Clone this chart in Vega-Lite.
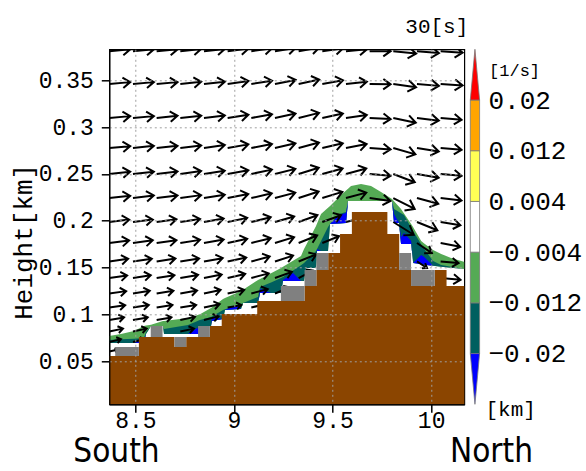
{
"$schema":"https://vega.github.io/schema/vega-lite/v6.json",
"autosize":{"type":"pad","resize":false},
"padding":{"left":9.3,"top":15.3,"right":0,"bottom":0},
"background":"white",
"bounds":"flush",
"spacing":6,
"datasets":{
"band":[
{"x":8.366,"b":0.0694,"t":0.0726,"g":0.0769,"u":0.0694},
{"x":8.4273,"b":0.0694,"t":0.0734,"g":0.0791,"u":0.0694},
{"x":8.4933,"b":0.0694,"t":0.0741,"g":0.0823,"u":0.0694},
{"x":8.544,"b":0.0694,"t":0.0748,"g":0.0876,"u":0.0737},
{"x":8.5541,"b":0.0791,"t":0.0812,"g":0.0881,"u":0.0791},
{"x":8.5795,"b":0.0876,"t":0.0876,"g":0.089,"u":0.0876},
{"x":8.6403,"b":0.0876,"t":0.0876,"g":0.0929,"u":0.0876},
{"x":8.6454,"b":0.0791,"t":0.0844,"g":0.093,"u":0.0791},
{"x":8.7062,"b":0.0791,"t":0.0865,"g":0.0946,"u":0.0791},
{"x":8.7671,"b":0.0791,"t":0.0887,"g":0.0961,"u":0.0791},
{"x":8.8127,"b":0.0791,"t":0.0927,"g":0.0991,"u":0.0855},
{"x":8.8229,"b":0.0791,"t":0.0936,"g":0.0998,"u":0.0844},
{"x":8.8279,"b":0.0876,"t":0.094,"g":0.1001,"u":0.0876},
{"x":8.8837,"b":0.0876,"t":0.0972,"g":0.1068,"u":0.0876},
{"x":8.8888,"b":0.0929,"t":0.0978,"g":0.1076,"u":0.0972},
{"x":8.9446,"b":0.0951,"t":0.1047,"g":0.1164,"u":0.0951},
{"x":8.9547,"b":0.1047,"t":0.1054,"g":0.1174,"u":0.1047},
{"x":9.0105,"b":0.1054,"t":0.1089,"g":0.1226,"u":0.11},
{"x":9.0358,"b":0.1057,"t":0.1111,"g":0.125,"u":0.1057},
{"x":9.046,"b":0.1121,"t":0.1121,"g":0.1263,"u":0.1121},
{"x":9.1221,"b":0.1121,"t":0.1186,"g":0.1367,"u":0.1121},
{"x":9.1322,"b":0.1228,"t":0.1292,"g":0.1378,"u":0.1271},
{"x":9.188,"b":0.1228,"t":0.134,"g":0.144,"u":0.1228},
{"x":9.2387,"b":0.1228,"t":0.1388,"g":0.1495,"u":0.1228},
{"x":9.2488,"b":0.1356,"t":0.1399,"g":0.1508,"u":0.1367},
{"x":9.2995,"b":0.1356,"t":0.1468,"g":0.1572,"u":0.1442},
{"x":9.3401,"b":0.1356,"t":0.1524,"g":0.1623,"u":0.1356},
{"x":9.3553,"b":0.1356,"t":0.1549,"g":0.1698,"u":0.1356},
{"x":9.3655,"b":0.1495,"t":0.157,"g":0.1739,"u":0.1495},
{"x":9.4162,"b":0.1495,"t":0.1677,"g":0.1944,"u":0.1495},
{"x":9.4213,"b":0.1677,"t":0.1698,"g":0.1969,"u":0.1698},
{"x":9.4415,"b":0.1677,"t":0.1783,"g":0.2072,"u":0.1677},
{"x":9.477,"b":0.1677,"t":0.1933,"g":0.2139,"u":0.1677},
{"x":9.4872,"b":0.1965,"t":0.1965,"g":0.2158,"u":0.1965},
{"x":9.5328,"b":0.1971,"t":0.2072,"g":0.2253,"u":0.2061},
{"x":9.5683,"b":0.1976,"t":0.2093,"g":0.2323,"u":0.2082},
{"x":9.5785,"b":0.221,"t":0.221,"g":0.2342,"u":0.221},
{"x":9.5937,"b":0.221,"t":0.221,"g":0.2371,"u":0.221},
{"x":9.6444,"b":0.221,"t":0.221,"g":0.2392,"u":0.221},
{"x":9.6951,"b":0.221,"t":0.221,"g":0.2371,"u":0.221},
{"x":9.7458,"b":0.221,"t":0.221,"g":0.2307,"u":0.221},
{"x":9.8016,"b":0.221,"t":0.221,"g":0.2231,"u":0.221},
{"x":9.8117,"b":0.1976,"t":0.2125,"g":0.2207,"u":0.2072},
{"x":9.8371,"b":0.1976,"t":0.2093,"g":0.2149,"u":0.1976},
{"x":9.8472,"b":0.1751,"t":0.208,"g":0.2125,"u":0.1826},
{"x":9.8624,"b":0.1751,"t":0.2061,"g":0.2077,"u":0.1869},
{"x":9.8987,"b":0.1751,"t":0.1926,"g":0.1965,"u":0.1783},
{"x":9.9089,"b":0.1549,"t":0.1888,"g":0.1929,"u":0.1549},
{"x":9.9494,"b":0.1537,"t":0.1749,"g":0.1783,"u":0.1634},
{"x":9.9646,"b":0.1531,"t":0.1698,"g":0.1758,"u":0.1613},
{"x":10.0096,"b":0.1518,"t":0.157,"g":0.1687,"u":0.1518},
{"x":10.0509,"b":0.1509,"t":0.1527,"g":0.1645,"u":0.1509},
{"x":10.1008,"b":0.1497,"t":0.1508,"g":0.1602,"u":0.1497},
{"x":10.17,"b":0.1484,"t":0.1484,"g":0.1559,"u":0.1484}
],
"terrain":[
{"x":8.338,"top":0.0556},{"x":8.398,"top":0.0556},{"x":8.458,"top":0.0556},{"x":8.518,"top":0.0758},{"x":8.578,"top":0.0758},{"x":8.638,"top":0.0758},{"x":8.698,"top":0.0652},{"x":8.758,"top":0.0758},{"x":8.818,"top":0.0758},{"x":8.878,"top":0.0876},{"x":8.938,"top":0.1004},{"x":8.998,"top":0.1004},{"x":9.058,"top":0.1004},{"x":9.118,"top":0.1143},{"x":9.178,"top":0.1143},{"x":9.238,"top":0.1143},{"x":9.298,"top":0.1143},{"x":9.358,"top":0.1303},{"x":9.418,"top":0.1474},{"x":9.478,"top":0.1655},{"x":9.538,"top":0.1858},{"x":9.598,"top":0.2093},{"x":9.658,"top":0.2093},{"x":9.718,"top":0.2093},{"x":9.778,"top":0.1858},{"x":9.838,"top":0.1474},{"x":9.898,"top":0.1303},{"x":9.958,"top":0.1303},{"x":10.018,"top":0.1474},{"x":10.078,"top":0.1303},{"x":10.138,"top":0.1303},{"x":10.198,"top":0.1303}
],
"gray":[
{"x":8.398,"x2":8.518,"lo":0.0556,"hi":0.0652},
{"x":8.578,"x2":8.638,"lo":0.0758,"hi":0.0876},
{"x":8.698,"x2":8.758,"lo":0.0652,"hi":0.0758},
{"x":8.818,"x2":8.878,"lo":0.0758,"hi":0.0876},
{"x":9.238,"x2":9.358,"lo":0.1143,"hi":0.1303},
{"x":9.358,"x2":9.418,"lo":0.1303,"hi":0.1474},
{"x":9.418,"x2":9.478,"lo":0.1474,"hi":0.1655},
{"x":9.838,"x2":9.898,"lo":0.1474,"hi":0.1655},
{"x":9.898,"x2":10.018,"lo":0.1303,"hi":0.1474}
],
"arrows":[
{"x":8.368,"z":0.381,"s":3.5,"a":-5},{"x":8.488,"z":0.381,"s":3.5,"a":-5},{"x":8.608,"z":0.381,"s":3.5,"a":-5},{"x":8.728,"z":0.381,"s":3.5,"a":-6},{"x":8.848,"z":0.381,"s":3.5,"a":-6},{"x":8.968,"z":0.381,"s":3.5,"a":-7},{"x":9.088,"z":0.381,"s":3.5,"a":-8},{"x":9.208,"z":0.381,"s":3.5,"a":-9},{"x":9.328,"z":0.381,"s":3.5,"a":-10},{"x":9.448,"z":0.381,"s":3.5,"a":-8},{"x":9.568,"z":0.381,"s":3.5,"a":-5},{"x":9.688,"z":0.381,"s":3.5,"a":0},{"x":9.808,"z":0.381,"s":3.83,"a":6},{"x":9.928,"z":0.381,"s":3.67,"a":5},{"x":10.048,"z":0.381,"s":3.67,"a":4},
{"x":8.368,"z":0.346,"s":3.5,"a":-5},{"x":8.488,"z":0.346,"s":3.5,"a":-5},{"x":8.608,"z":0.346,"s":3.5,"a":-5},{"x":8.728,"z":0.346,"s":3.5,"a":-6},{"x":8.848,"z":0.346,"s":3.5,"a":-6},{"x":8.968,"z":0.346,"s":3.5,"a":-8},{"x":9.088,"z":0.346,"s":3.5,"a":-9},{"x":9.208,"z":0.346,"s":3.5,"a":-11},{"x":9.328,"z":0.346,"s":3.5,"a":-12},{"x":9.448,"z":0.346,"s":3.5,"a":-10},{"x":9.568,"z":0.346,"s":3.5,"a":-6},{"x":9.688,"z":0.346,"s":3.5,"a":1},{"x":9.808,"z":0.346,"s":3.83,"a":8},{"x":9.928,"z":0.346,"s":3.67,"a":5},{"x":10.048,"z":0.346,"s":3.67,"a":4},
{"x":8.368,"z":0.3097,"s":3.5,"a":-5},{"x":8.488,"z":0.3097,"s":3.5,"a":-5},{"x":8.608,"z":0.3097,"s":3.5,"a":-6},{"x":8.728,"z":0.3097,"s":3.5,"a":-6},{"x":8.848,"z":0.3097,"s":3.5,"a":-7},{"x":8.968,"z":0.3097,"s":3.5,"a":-9},{"x":9.088,"z":0.3097,"s":3.5,"a":-10},{"x":9.208,"z":0.3097,"s":3.5,"a":-12},{"x":9.328,"z":0.3097,"s":3.5,"a":-14},{"x":9.448,"z":0.3097,"s":3.5,"a":-12},{"x":9.568,"z":0.3097,"s":3.5,"a":-8},{"x":9.688,"z":0.3097,"s":3.5,"a":3},{"x":9.808,"z":0.3097,"s":3.83,"a":12},{"x":9.928,"z":0.3097,"s":3.67,"a":7},{"x":10.048,"z":0.3097,"s":3.5,"a":5},
{"x":8.368,"z":0.2776,"s":3.5,"a":-5},{"x":8.488,"z":0.2776,"s":3.5,"a":-6},{"x":8.608,"z":0.2776,"s":3.5,"a":-6},{"x":8.728,"z":0.2776,"s":3.5,"a":-7},{"x":8.848,"z":0.2776,"s":3.5,"a":-8},{"x":8.968,"z":0.2776,"s":3.5,"a":-10},{"x":9.088,"z":0.2776,"s":3.5,"a":-11},{"x":9.208,"z":0.2776,"s":3.5,"a":-13},{"x":9.328,"z":0.2776,"s":3.5,"a":-15},{"x":9.448,"z":0.2776,"s":3.5,"a":-13},{"x":9.568,"z":0.2776,"s":3.5,"a":-11},{"x":9.688,"z":0.2776,"s":3.5,"a":4},{"x":9.808,"z":0.2776,"s":3.83,"a":16},{"x":9.928,"z":0.2776,"s":3.67,"a":9},{"x":10.048,"z":0.2776,"s":3.5,"a":5},
{"x":8.368,"z":0.2499,"s":3.5,"a":-6},{"x":8.488,"z":0.2499,"s":3.5,"a":-6},{"x":8.608,"z":0.2499,"s":3.5,"a":-7},{"x":8.728,"z":0.2499,"s":3.5,"a":-8},{"x":8.848,"z":0.2499,"s":3.5,"a":-9},{"x":8.968,"z":0.2499,"s":3.5,"a":-10},{"x":9.088,"z":0.2499,"s":3.5,"a":-12},{"x":9.208,"z":0.2499,"s":3.5,"a":-14},{"x":9.328,"z":0.2499,"s":3.5,"a":-17},{"x":9.448,"z":0.2499,"s":3.5,"a":-15},{"x":9.568,"z":0.2499,"s":3.5,"a":-15},{"x":9.688,"z":0.2499,"s":3.5,"a":5},{"x":9.808,"z":0.2499,"s":3.83,"a":21},{"x":9.928,"z":0.2499,"s":3.67,"a":10},{"x":10.048,"z":0.2499,"s":3.5,"a":5},
{"x":8.368,"z":0.2242,"s":3.5,"a":-6},{"x":8.488,"z":0.2242,"s":3.5,"a":-7},{"x":8.608,"z":0.2242,"s":3.5,"a":-7},{"x":8.728,"z":0.2242,"s":3.5,"a":-8},{"x":8.848,"z":0.2242,"s":3.5,"a":-9},{"x":8.968,"z":0.2242,"s":3.5,"a":-11},{"x":9.088,"z":0.2242,"s":3.5,"a":-13},{"x":9.208,"z":0.2242,"s":3.5,"a":-15},{"x":9.328,"z":0.2242,"s":3.5,"a":-18},{"x":9.448,"z":0.2242,"s":3.5,"a":-17},{"x":9.568,"z":0.2242,"s":3.5,"a":-15},{"x":9.688,"z":0.2242,"s":3.5,"a":8},{"x":9.808,"z":0.2242,"s":4,"a":27},{"x":9.928,"z":0.2242,"s":3.67,"a":15},{"x":10.048,"z":0.2242,"s":3.5,"a":7},
{"x":8.368,"z":0.1986,"s":3.33,"a":-7},{"x":8.488,"z":0.1986,"s":3.33,"a":-7},{"x":8.608,"z":0.1986,"s":3.33,"a":-8},{"x":8.728,"z":0.1986,"s":3.33,"a":-9},{"x":8.848,"z":0.1986,"s":3.33,"a":-10},{"x":8.968,"z":0.1986,"s":3.33,"a":-12},{"x":9.088,"z":0.1986,"s":3.33,"a":-14},{"x":9.208,"z":0.1986,"s":3.33,"a":-16},{"x":9.328,"z":0.1986,"s":3.33,"a":-20},{"x":9.448,"z":0.1986,"s":3.33,"a":-20},{"x":9.568,"z":0.1986,"s":3.33,"a":-14},{"x":9.808,"z":0.1986,"s":4,"a":32},{"x":9.928,"z":0.1986,"s":3.67,"a":22},{"x":10.048,"z":0.1986,"s":3.33,"a":9},
{"x":8.368,"z":0.1762,"s":3.33,"a":-7},{"x":8.488,"z":0.1762,"s":3.33,"a":-8},{"x":8.608,"z":0.1762,"s":3.33,"a":-8},{"x":8.728,"z":0.1762,"s":3.33,"a":-9},{"x":8.848,"z":0.1762,"s":3.33,"a":-10},{"x":8.968,"z":0.1762,"s":3.33,"a":-12},{"x":9.088,"z":0.1762,"s":3.33,"a":-14},{"x":9.208,"z":0.1762,"s":3.33,"a":-17},{"x":9.328,"z":0.1762,"s":3.33,"a":-22},{"x":9.448,"z":0.1762,"s":3,"a":-22},{"x":9.928,"z":0.1762,"s":3,"a":34},{"x":10.048,"z":0.1762,"s":3.33,"a":11},
{"x":8.368,"z":0.1565,"s":3.17,"a":-8},{"x":8.488,"z":0.1565,"s":3.17,"a":-8},{"x":8.608,"z":0.1565,"s":3.17,"a":-9},{"x":8.728,"z":0.1565,"s":3.17,"a":-9},{"x":8.848,"z":0.1565,"s":3.17,"a":-10},{"x":8.968,"z":0.1565,"s":3.17,"a":-12},{"x":9.088,"z":0.1565,"s":3.17,"a":-15},{"x":9.208,"z":0.1565,"s":3.17,"a":-18},{"x":9.328,"z":0.1565,"s":3.17,"a":-22},{"x":9.928,"z":0.1565,"s":2,"a":33},{"x":10.048,"z":0.1565,"s":3,"a":5},
{"x":8.368,"z":0.1388,"s":3,"a":-8},{"x":8.488,"z":0.1388,"s":3,"a":-9},{"x":8.608,"z":0.1388,"s":3,"a":-9},{"x":8.728,"z":0.1388,"s":3,"a":-10},{"x":8.848,"z":0.1388,"s":3,"a":-11},{"x":8.968,"z":0.1388,"s":3,"a":-13},{"x":9.088,"z":0.1388,"s":3,"a":-15},{"x":9.208,"z":0.1388,"s":3,"a":-20},{"x":9.328,"z":0.1388,"s":2.67,"a":-28},{"x":10.048,"z":0.1388,"s":3.33,"a":5},
{"x":8.368,"z":0.1223,"s":2.83,"a":-8},{"x":8.488,"z":0.1223,"s":2.83,"a":-9},{"x":8.608,"z":0.1223,"s":2.83,"a":-9},{"x":8.728,"z":0.1223,"s":2.83,"a":-10},{"x":8.848,"z":0.1223,"s":2.83,"a":-12},{"x":8.968,"z":0.1223,"s":2.83,"a":-12},{"x":9.088,"z":0.1223,"s":2.83,"a":-15},{"x":9.208,"z":0.1223,"s":2.67,"a":-22},
{"x":8.368,"z":0.1073,"s":2.67,"a":-8},{"x":8.488,"z":0.1073,"s":2.67,"a":-9},{"x":8.608,"z":0.1073,"s":2.67,"a":-9},{"x":8.728,"z":0.1073,"s":2.67,"a":-9},{"x":8.848,"z":0.1073,"s":2.67,"a":-12},{"x":8.968,"z":0.1073,"s":2.33,"a":-10},{"x":9.088,"z":0.1073,"s":2.33,"a":-14},
{"x":8.368,"z":0.094,"s":2.5,"a":-10},{"x":8.488,"z":0.094,"s":2.5,"a":-10},{"x":8.608,"z":0.094,"s":2.5,"a":-10},{"x":8.728,"z":0.094,"s":2.5,"a":-12},{"x":8.848,"z":0.094,"s":2.5,"a":-14},
{"x":8.368,"z":0.0817,"s":2.33,"a":-12},{"x":8.488,"z":0.0817,"s":2.33,"a":-12},{"x":8.728,"z":0.0817,"s":2.33,"a":-12},
{"x":8.368,"z":0.0705,"s":2,"a":-14},{"x":8.488,"z":0.0705,"s":2,"a":-14},
{"x":8.368,"z":0.0604,"s":1.5,"a":-12}
],
"cbar":[
{"lo":-0.02,"hi":-0.012,"v":-0.016},
{"lo":-0.012,"hi":-0.004,"v":-0.008},
{"lo":-0.004,"hi":0.004,"v":0},
{"lo":0.004,"hi":0.012,"v":0.008},
{"lo":0.012,"hi":0.02,"v":0.016}
],
"tips":[
{"x":0,"v":0.02,"base":0.02,"c":0.024},
{"x":0.5,"v":0.028,"base":0.02,"c":0.024},
{"x":1,"v":0.02,"base":0.02,"c":0.024},
{"x":0,"v":-0.02,"base":-0.02,"c":-0.024},
{"x":0.5,"v":-0.028,"base":-0.02,"c":-0.024},
{"x":1,"v":-0.02,"base":-0.02,"c":-0.024}
]
},
"hconcat":[
{
"width":355,"height":355,
"view":{"stroke":"black","strokeWidth":1.2},
"title":{"text":"30[s]","anchor":"end","frame":"group","offset":12,"dx":4,"font":"Liberation Mono","fontSize":21,"fontWeight":"normal","color":"black"},
"layer":[
{"data":{"name":"band"},
 "mark":{"type":"area","clip":true,"color":"#55aa55"},
 "encoding":{
  "x":{"field":"x","type":"quantitative","scale":{"domain":[8.368,10.168],"nice":false,"zero":false},
   "axis":{"title":"South","titleX":6.7,"titleY":47.5,"titleAngle":0,"titleAlign":"center","titleBaseline":"middle","titleFont":"Liberation Sans Narrow, DejaVu Sans Condensed, Liberation Sans","titleFontSize":33,"titleFontWeight":"normal","titleColor":"black","values":[8.5,9,9.5,10],"format":"~g","labelFlush":false,"grid":true,"gridDash":[2,3],"gridColor":"#a0a0a0","gridWidth":1,"domain":true,"domainColor":"black","domainWidth":1.2,"tickSize":8,"tickColor":"black","tickWidth":1.5,"labelFont":"Liberation Mono","labelFontSize":23,"labelColor":"black","labelPadding":-3,"zindex":1}},
  "y":{"field":"g","type":"quantitative","scale":{"domain":[0.004,0.383],"nice":false,"zero":false},
   "axis":{"title":"Height[km]","values":[0.05,0.1,0.15,0.2,0.25,0.3,0.35],"format":"~g","labelFlush":false,"grid":true,"gridDash":[2,3],"gridColor":"#a0a0a0","gridWidth":1,"domain":true,"domainColor":"black","domainWidth":1.2,"tickSize":8,"tickColor":"black","tickWidth":1.5,"labelFont":"Liberation Mono","labelFontSize":23,"labelColor":"black","labelPadding":8,"titleFont":"Liberation Mono","titleFontSize":26,"titleFontWeight":"normal","titleColor":"black","titleX":-86,"titleY":192,"titleAngle":-90,"titleAlign":"center","titleBaseline":"middle","zindex":1}},
  "y2":{"field":"b"}
 }},
{"data":{"name":"band"},
 "mark":{"type":"area","clip":true,"color":"#005f5f"},
 "encoding":{
  "x":{"field":"x","type":"quantitative"},
  "y":{"field":"t","type":"quantitative"},
  "y2":{"field":"b"}
 }},
{"data":{"name":"band"},
 "mark":{"type":"area","clip":true,"color":"#0000ff"},
 "encoding":{
  "x":{"field":"x","type":"quantitative"},
  "y":{"field":"u","type":"quantitative"},
  "y2":{"field":"b"}
 }},
{"data":{"name":"arrows"},
 "mark":{"type":"point","shape":"M0,0L1,0M0.65,-0.25L1,0L0.65,0.25","filled":false,"color":"black","strokeWidth":2,"opacity":1,"clip":true},
 "encoding":{
  "x":{"field":"x","type":"quantitative"},
  "y":{"field":"z","type":"quantitative"},
  "size":{"field":"s","type":"quantitative","scale":{"type":"pow","exponent":2,"domain":[0,5],"range":[0,3600]},"legend":null},
  "angle":{"field":"a","type":"quantitative","scale":{"domain":[-180,180],"range":[-180,180]}}
 }},
{"data":{"name":"terrain"},
 "mark":{"type":"area","interpolate":"step-after","color":"#8b4500","clip":true},
 "encoding":{
  "x":{"field":"x","type":"quantitative"},
  "y":{"field":"top","type":"quantitative"}
 }},
{"data":{"name":"gray"},
 "mark":{"type":"rect","color":"#808080","clip":true},
 "encoding":{
  "x":{"field":"x","type":"quantitative"},
  "x2":{"field":"x2"},
  "y":{"field":"lo","type":"quantitative"},
  "y2":{"field":"hi"}
 }}
]},
{
"width":9.3,"height":355,
"view":{"stroke":null},
"layer":[
{"data":{"name":"cbar"},
 "mark":{"type":"rect","stroke":"#777777","strokeWidth":0.8},
 "encoding":{
  "y":{"field":"lo","type":"quantitative","scale":{"domain":[-0.028,0.028],"nice":false,"zero":false},
   "axis":{"orient":"right","title":"[1/s]","titleAngle":0,"titleX":9,"titleY":21.7,"titleAlign":"left","titleBaseline":"middle","titleFont":"Liberation Mono","titleFontSize":17,"titleFontWeight":"normal","titleColor":"black","values":[-0.02,-0.012,-0.004,0.004,0.012,0.02],"format":"~g","ticks":false,"domain":false,"grid":false,"labelPadding":8.4,"labelFont":"Liberation Mono","labelFontSize":26,"labelColor":"black"}},
  "y2":{"field":"hi"},
  "color":{"field":"v","type":"quantitative","scale":{"type":"threshold","domain":[-0.02,-0.012,-0.004,0.004,0.012,0.02],"range":["#0000ff","#005f5f","#55aa55","#ffffff","#ffff55","#ffa500","#ff0000"]},"legend":null}
 }},
{"data":{"name":"tips"},
 "mark":{"type":"area","stroke":"#777777","strokeWidth":0.8},
 "encoding":{
  "x":{"field":"x","type":"quantitative","scale":{"domain":[0,1],"nice":false,"zero":false},
   "axis":{"title":"North","titleX":20.7,"titleY":47.5,"titleAngle":0,"titleAlign":"center","titleBaseline":"middle","titleFont":"Liberation Sans Narrow, DejaVu Sans Condensed, Liberation Sans","titleFontSize":33,"titleFontWeight":"normal","titleColor":"black","values":[0.5],"labelExpr":"'[km]'","labelAlign":"left","labelBaseline":"middle","labelOffset":10,"labelPadding":5,"labelFlush":false,"labelFont":"Liberation Mono","labelFontSize":21,"labelColor":"black","ticks":false,"domain":false,"grid":false}},
  "y":{"field":"v","type":"quantitative"},
  "y2":{"field":"base"},
  "color":{"field":"c","type":"quantitative","scale":{"type":"threshold","domain":[-0.02,-0.012,-0.004,0.004,0.012,0.02],"range":["#0000ff","#005f5f","#55aa55","#ffffff","#ffff55","#ffa500","#ff0000"]},"legend":null}
 }}
]}
]
}
